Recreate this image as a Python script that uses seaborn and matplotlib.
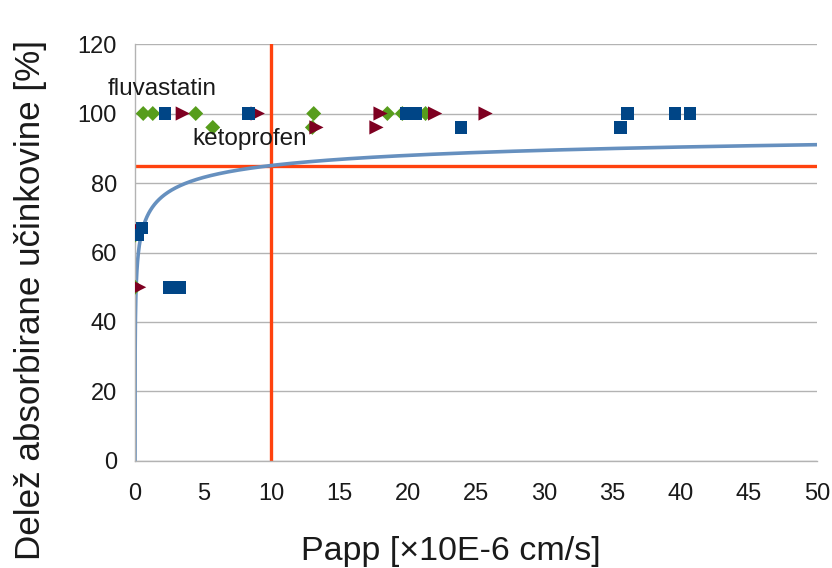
import numpy as np
import pandas as pd
import matplotlib
matplotlib.use("Agg")
import matplotlib.pyplot as plt
import seaborn as sns

# Measured permeability (x) vs. absorbed fraction (%) for three compound groups
squares_x = [2.2, 8.3, 19.9, 20.6, 23.9, 35.6, 36.1, 39.6, 40.7, 0.5, 0.2, 2.5, 3.3]
squares_y = [100, 100, 100, 100, 96, 96, 100, 100, 100, 67, 65, 50, 50]

triangles_x = [0.1, 0.3, 3.5, 9.0, 13.3, 17.7, 18.0, 22.0, 25.7]
triangles_y = [67, 50, 100, 100, 96, 96, 100, 100, 100]

diamonds_x = [0.0, 0.0, 0.6, 1.3, 4.45, 5.7, 13.1, 13.0, 18.5, 19.6, 21.3]
diamonds_y = [65, 50, 100, 100, 100, 96, 100, 96, 100, 100, 100]

# Fitted absorption model: Fa = Fmax * P^n / (P^n + K^n)
fit_fmax = 100.0
fit_k = 0.08
fit_n = 0.36

# Threshold lines
papp_cut = 10
fa_cut = 85

x_ticks = [0, 5, 10, 15, 20, 25, 30, 35, 40, 45, 50]
y_ticks = [0, 20, 40, 60, 80, 100, 120]

sns.set_theme(style="white")
plt.rcParams["font.family"] = ["Liberation Sans", "DejaVu Sans"]

fig = plt.figure(figsize=(8.32, 5.68), dpi=100)
ax = fig.add_axes([0.1623, 0.1884, 0.8197, 0.7341])

grid_c = "#b3b3b3"
text_c = "#1a1a1a"
for yv in y_ticks:
    ax.axhline(yv, color=grid_c, lw=1.0, zorder=0)

ax.axvline(papp_cut, color="#ff420e", lw=2.4, zorder=1)
ax.axhline(fa_cut, color="#ff420e", lw=2.4, zorder=1)

p = np.concatenate([np.linspace(0, 0.05, 60), np.logspace(np.log10(0.05), np.log10(50), 400)])
fa = fit_fmax * p**fit_n / (p**fit_n + fit_k**fit_n)
curve = pd.DataFrame({"p": p, "fa": fa})
sns.lineplot(data=curve, x="p", y="fa", ax=ax, color="#6690bf", lw=2.6,
             zorder=2, sort=False, estimator=None)

dia = pd.DataFrame({"x": diamonds_x, "y": diamonds_y})
tri = pd.DataFrame({"x": triangles_x, "y": triangles_y})
sq = pd.DataFrame({"x": squares_x, "y": squares_y})
sns.scatterplot(data=dia, x="x", y="y", ax=ax, marker="D", s=58,
                color="#579d1c", edgecolor="none", zorder=3)
sns.scatterplot(data=tri, x="x", y="y", ax=ax, marker=">", s=105,
                color="#7e0021", edgecolor="none", zorder=4)
sns.scatterplot(data=sq, x="x", y="y", ax=ax, marker="s", s=82,
                color="#004586", edgecolor="none", zorder=5)

ax.text(-1.98, 105.3, "fluvastatin", fontsize=17.5, ha="left", va="baseline",
        color=text_c, zorder=6)
ax.text(4.18, 90.9, "ketoprofen", fontsize=17.5, ha="left", va="baseline",
        color=text_c, zorder=6)

ax.set_xlim(0, 50)
ax.set_ylim(0, 120)
ax.set_xticks(x_ticks)
ax.set_yticks(y_ticks)
ax.tick_params(axis="both", labelsize=17, colors=grid_c, labelcolor=text_c,
               length=7, width=1.0, direction="out")
ax.tick_params(axis="y", pad=6)
ax.tick_params(axis="x", pad=9)

for side in ["top", "right"]:
    ax.spines[side].set_visible(False)
for side in ["left", "bottom"]:
    ax.spines[side].set_color(grid_c)
    ax.spines[side].set_linewidth(1.0)

ax.set_xlabel("Papp [×10E-6 cm/s]", fontsize=24.5, color=text_c)
ax.set_ylabel("Delež absorbirane učinkovine [%]", fontsize=25.2, color=text_c)
ax.xaxis.set_label_coords(0.463, -0.218)
ax.xaxis.label.set_verticalalignment("center")
ax.yaxis.set_label_coords(-0.154, 0.386)
ax.yaxis.label.set_verticalalignment("center")

fig.savefig("out.png", dpi=100)
